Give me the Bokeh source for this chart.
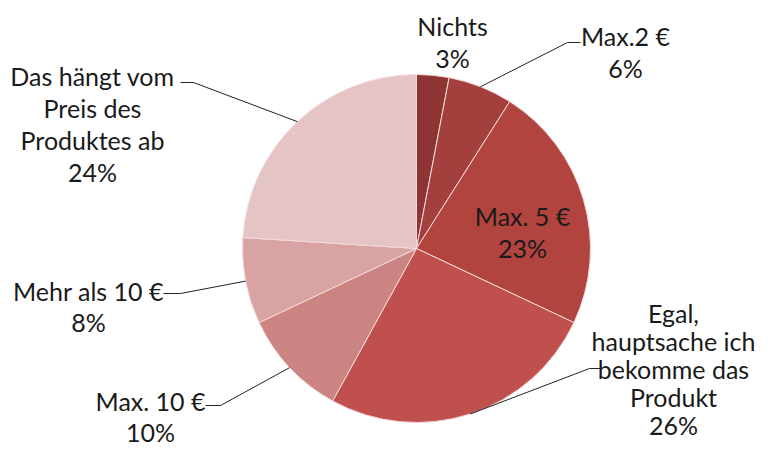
import math
from bokeh.plotting import figure
from bokeh.models import Range1d, ColumnDataSource
from bokeh.core.properties import value
from bokeh.embed import file_html
from bokeh.resources import INLINE

# Data (clockwise from 12 o'clock)
categories = ["Nichts", "Max.2 €", "Max. 5 €", "Egal, hauptsache ich bekomme das Produkt",
              "Max. 10 €", "Mehr als 10 €", "Das hängt vom Preis des Produktes ab"]
label_lines = [["Nichts"], ["Max.2 €"], ["Max. 5 €"],
               ["Egal,", "hauptsache ich", "bekomme das", "Produkt"],
               ["Max. 10 €"], ["Mehr als 10 €"], ["Das hängt vom", "Preis des", "Produktes ab"]]
percents = [3, 6, 23, 26, 10, 8, 24]
colors = ["#8E3432", "#A3403D", "#B1443F", "#C0504D", "#CC8482", "#D8A3A2", "#E5C4C5"]

W, H = 760, 447
IMG_H = 463
CX, CY, R = 416, IMG_H - 248, 174

p = figure(width=W, height=H, output_backend="svg", toolbar_location=None,
           x_range=Range1d(0, W), y_range=Range1d(IMG_H - H, IMG_H),
           min_border=0)
p.axis.visible = False
p.grid.visible = False
p.outline_line_color = None
p.background_fill_color = "white"

total = sum(percents)
starts, ends, mids = [], [], []
cum = 0
for v in percents:
    a0 = math.pi / 2 - 2 * math.pi * cum / total
    cum += v
    a1 = math.pi / 2 - 2 * math.pi * cum / total
    starts.append(a0)
    ends.append(a1)
    mids.append((a0 + a1) / 2)

src = ColumnDataSource(dict(x=[CX] * len(percents), y=[CY] * len(percents),
                            start=starts, end=ends, color=colors))
p.wedge(x="x", y="y", radius=R, start_angle="start", end_angle="end", direction="clock",
        fill_color="color", line_color="#F4DADA", line_width=1, source=src)

font = value("Lato")
FS = "25px"

# label anchors: (center x, first line center y in image coords, line spacing, side of stub)
anchors = [
    (452, 25, 32, None),
    (625, 35, 32, "left"),
    (522, 215, 32, None),
    (673, 312, 28, "left"),
    (150, 400, 31, "right"),
    (88, 290, 31, "right"),
    (92, 75, 32, "right"),
]
# short horizontal stub of each leader line (x0, x1, y) in image coords
stubs = [
    None,
    (567, 580, 42),
    None,
    (589, 602, 368),
    (205, 220, 405),
    (163, 180, 293),
    (180, 193, 82),
]

for i, (lines, pct) in enumerate(zip(label_lines, percents)):
    ax, ay, ls, side = anchors[i]
    all_lines = lines + [f"{pct}%"]
    xs = [ax] * len(all_lines)
    ys = [IMG_H - (ay + k * ls) for k in range(len(all_lines))]
    p.text(x=xs, y=ys, text=all_lines, text_align="center", text_baseline="middle",
           text_font=font, text_font_size=FS, text_color="#1A1A1A")
    st = stubs[i]
    if st is not None:
        x0, x1, sy = st
        ex = CX + R * math.cos(mids[i])
        ey = CY + R * math.sin(mids[i])
        jx, other = (x0, x1) if side == "left" else (x1, x0)
        p.line(x=[other, jx, ex], y=[IMG_H - sy, IMG_H - sy, ey], line_color="#222222", line_width=1)

open("out.html", "w").write(file_html(p, INLINE))
